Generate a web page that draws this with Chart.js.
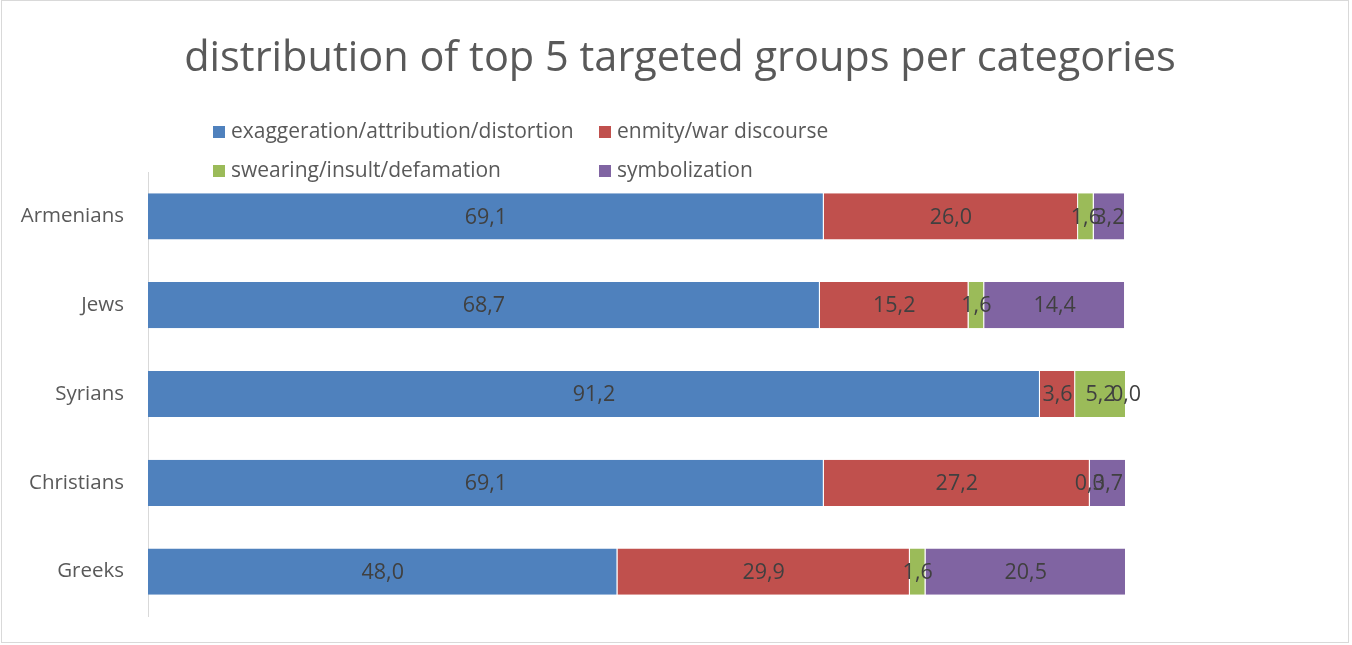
<!DOCTYPE html>
<html>
<head>
<meta charset="utf-8">
<script src="https://cdn.jsdelivr.net/npm/chart.js@4/dist/chart.umd.min.js"></script>
<style>
  html, body { margin: 0; padding: 0; background: #fff; }
  #wrap { position: absolute; left: 1px; top: 0px; width: 1348px; height: 643px; border: 1px solid #d9d9d9; box-sizing: border-box; }
  #cv { position: absolute; left: 0; top: 0; }
  #title { position: absolute; left: 0; width: 1360px; top: 27px; text-align: center; font-family: 'Open Sans', sans-serif; font-size: 41.5px; line-height: 56px; color: #595959; white-space: nowrap; }
  .lg { position: absolute; font-family: 'Open Sans', sans-serif; font-size: 21px; color: #595959; white-space: nowrap; line-height: 24px; }
  .lg span.sq { display: inline-block; width: 12px; height: 12px; margin-right: 6px; vertical-align: 0px; }
</style>
</head>
<body>
<canvas id="cv" width="1352" height="645"></canvas>
<div id="wrap"></div>
<div id="title"></div>
<div id="legend"></div>
<script>
const categories = ['Armenians', 'Jews', 'Syrians', 'Christians', 'Greeks'];
const seriesNames = ['exaggeration/attribution/distortion', 'enmity/war discourse', 'swearing/insult/defamation', 'symbolization'];
const exaggeration = [69.1, 68.7, 91.2, 69.1, 48.0];
const enmity = [26.0, 15.2, 3.6, 27.2, 29.9];
const swearing = [1.6, 1.6, 5.2, 0.0, 1.6];
const symbolization = [3.2, 14.4, 0.0, 3.7, 20.5];
const colors = ['#4F81BD', '#C0504D', '#9BBB59', '#8064A2'];
const titleText = 'distribution of top 5 targeted groups per categories';

const FONT = "'Open Sans', sans-serif";

document.getElementById('title').textContent = titleText;

// HTML legend (2 x 2 grid)
const legendPos = [[213, 118], [599, 118], [213, 157], [599, 157]];
const lg = document.getElementById('legend');
seriesNames.forEach((n, i) => {
  const d = document.createElement('div');
  d.className = 'lg';
  d.style.left = legendPos[i][0] + 'px';
  d.style.top = legendPos[i][1] + 'px';
  d.innerHTML = '<span class="sq" style="background:' + colors[i] + '"></span>' + n;
  lg.appendChild(d);
});

const labelPlugin = {
  id: 'segLabels',
  afterDatasetsDraw(chart) {
    const ctx = chart.ctx;
    ctx.save();
    ctx.font = '21.5px ' + FONT;
    ctx.fillStyle = '#404040';
    ctx.textAlign = 'center';
    ctx.textBaseline = 'middle';
    chart.data.datasets.forEach((ds, di) => {
      const meta = chart.getDatasetMeta(di);
      meta.data.forEach((el, i) => {
        const p = el.getProps(['x', 'y', 'base'], true);
        const cx = (p.x + p.base) / 2;
        ctx.fillText(ds.data[i].toFixed(1).replace('.', ','), cx, p.y + 1);
      });
    });
    ctx.restore();
  }
};

const datasets = [exaggeration, enmity, swearing, symbolization].map((arr, i) => ({
  label: seriesNames[i],
  data: arr,
  backgroundColor: colors[i],
  borderColor: '#ffffff',
  borderWidth: { left: 0, right: 1, top: 0, bottom: 0 },
  borderSkipped: false,
  barPercentage: 1,
  categoryPercentage: 0.52
}));

new Chart(document.getElementById('cv'), {
  type: 'bar',
  data: { labels: categories, datasets },
  options: {
    indexAxis: 'y',
    responsive: false,
    animation: false,
    layout: { padding: { left: 0, right: 226, top: 172, bottom: 29 } },
    plugins: {
      legend: { display: false },
      tooltip: { enabled: false },
      title: { display: false }
    },
    scales: {
      x: { stacked: true, min: 0, max: 100, display: false },
      y: {
        stacked: true,
        grid: { display: false, drawTicks: false },
        border: { display: true, color: '#d9d9d9', width: 1 },
        ticks: { color: '#595959', font: { family: FONT, size: 20.5 }, padding: 24 },
        afterFit(scale) {
          scale.width = 148;
          scale.paddingTop = 0;
          scale.paddingBottom = 0;
        }
      }
    }
  },
  plugins: [labelPlugin]
});
</script>
</body>
</html>
